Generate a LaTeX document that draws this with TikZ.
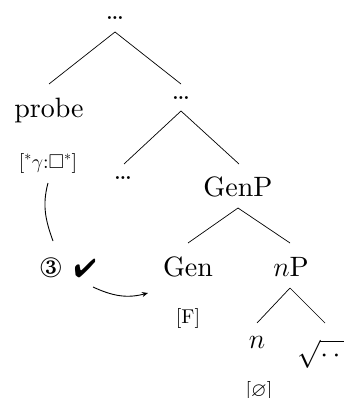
\RequirePackage{fix-cm}
\documentclass[tikz,border=0pt]{standalone}
\usepackage{amssymb}
\usepackage{fontspec}
\setmainfont{lmroman10-regular.otf}[BoldFont=lmroman10-bold.otf,ItalicFont=lmroman10-italic.otf]
\usepackage{pifont}
\usetikzlibrary{arrows.meta}
\tikzset{
  big/.style={anchor=base,inner sep=0pt,font=\fontsize{28}{32}\selectfont},
  small/.style={anchor=base,inner sep=0pt,font=\fontsize{20}{23}\selectfont},
  tick/.style={anchor=base,inner sep=0pt,font=\fontsize{26}{30}\selectfont},
  branch/.style={line width=0.7pt},
  link/.style={line width=0.9pt},
}
\begin{document}
\begin{tikzpicture}[x=1pt,y=-1pt]
\useasboundingbox (0,0) rectangle (344,398);
\clip (0,0) rectangle (344,398);
% nodes
\node[big] (top)   at (115,20)  {\ldots};
\node[big] (probe) at (49,118)  {probe};
\node[big] (rdots) at (181,100) {\ldots};
\node[small] (feat) at (48,168) {[$^*\gamma$:$\square^*$]};
\node[big] (ldots) at (123,179) {\ldots};
\node[big] (genp)  at (238,196) {GenP};
\node[big] (circ)  at (51,277)  {\ding{174}};
\node[tick] (chk)  at (85,277)  {\ding{52}};
\node[big] (gen)   at (188,276) {Gen};
\node[big] (np)    at (291,276) {$n$P};
\node[small] (F)   at (188,323) {[F]};
\node[big] (n)     at (257,348) {$n$};
\node[big] (sq)    at (325,362) {$\sqrt{\cdots}$};
\node[small] (nul) at (259,396) {[$\varnothing$]};
% branches
\draw[branch] ([yshift=-12pt]top.base) -- ([yshift=34pt]probe.base);
\draw[branch] ([yshift=-12pt]top.base) -- ([yshift=16pt]rdots.base);
\draw[branch] ([yshift=-11pt]rdots.base) -- ([xshift=1pt,yshift=15pt]ldots.base);
\draw[branch] ([yshift=-11pt]rdots.base) -- ([xshift=1pt,yshift=32pt]genp.base);
\draw[branch] ([yshift=-12pt]genp.base) -- ([yshift=33pt]gen.base);
\draw[branch] ([yshift=-12pt]genp.base) -- ([xshift=-1pt,yshift=33pt]np.base);
\draw[branch] ([xshift=-1pt,yshift=-12pt]np.base) -- ([yshift=25pt]n.base);
\draw[branch] ([xshift=-1pt,yshift=-12pt]np.base) -- ([yshift=39pt]sq.base);
% agreement links
\draw[link] ([yshift=-15pt]feat.base) to[out=255,in=110] ([xshift=2pt,yshift=36pt]circ.base);
\draw[link,-{Stealth[length=6pt,width=5pt]}] ([xshift=8pt,yshift=-10pt]chk.base) to[out=-25,in=195] ([xshift=-40pt,yshift=-17pt]gen.base);
\end{tikzpicture}
\end{document}
